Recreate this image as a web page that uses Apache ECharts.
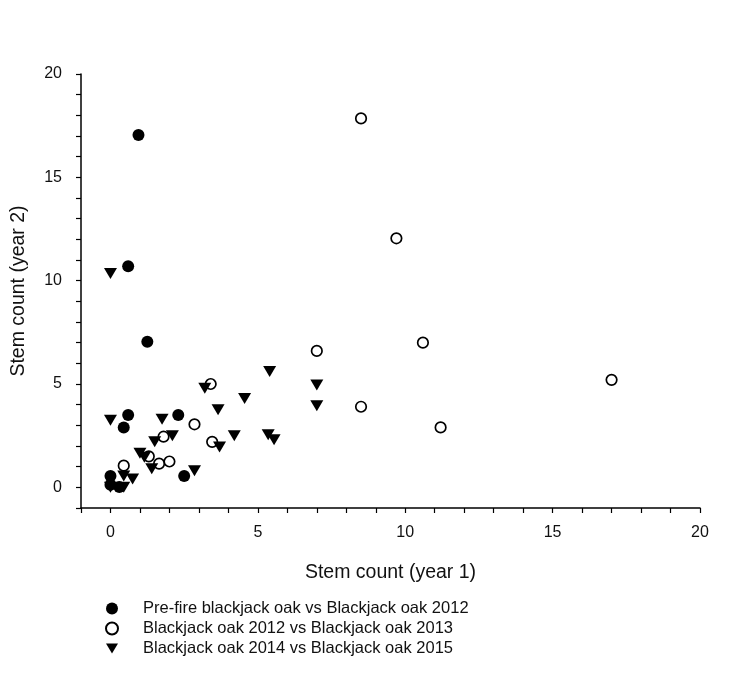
<!DOCTYPE html>
<html>
<head>
<meta charset="utf-8">
<script src="https://cdn.jsdelivr.net/npm/echarts@6/dist/echarts.min.js"></script>
<style>
html,body{margin:0;padding:0;background:#fff;}
#chart{width:749px;height:677px;}
</style>
</head>
<body>
<div id="chart"></div>
<script>
const seriesNames = [
  'Pre-fire blackjack oak vs Blackjack oak 2012',
  'Blackjack oak 2012 vs Blackjack oak 2013',
  'Blackjack oak 2014 vs Blackjack oak 2015'
];
const prefireX = [0.95, 0.6, 1.25, 0.6, 0.45, 2.3, 2.5, 0, 0, 0.3];
const prefireY = [17.05, 10.7, 7.05, 3.5, 2.9, 3.5, 0.55, 0.55, 0.12, 0.02];
const y2013X = [8.5, 9.7, 10.6, 7.0, 8.5, 11.2, 17.0, 3.4, 3.45, 2.85, 1.8, 1.3, 1.65, 2.0, 0.45];
const y2013Y = [17.85, 12.05, 7.0, 6.6, 3.9, 2.9, 5.2, 5.0, 2.2, 3.05, 2.45, 1.5, 1.15, 1.25, 1.05];
const y2015X = [0, 0, 1.75, 2.1, 1.5, 1.0, 1.15, 1.4, 2.85, 0.45, 0.75, 0, 0.45, 3.2, 3.65, 3.7, 4.55, 4.2, 5.4, 5.35, 5.55, 7.0, 7.0];
const y2015Y = [10.35, 3.25, 3.3, 2.5, 2.2, 1.65, 1.45, 0.9, 0.8, 0.55, 0.4, 0, 0, 4.8, 3.75, 1.95, 4.3, 2.5, 5.6, 2.55, 2.3, 4.95, 3.95];
const axisMin = -1, axisMax = 20, tickStep = 1, labelStep = 5;
const xTitle = 'Stem count (year 1)';
const yTitle = 'Stem count (year 2)';

const zip = (xs, ys) => xs.map((x, i) => [x, ys[i]]);
const FONT = '"Liberation Sans", Arial, sans-serif';
const triPath = 'path://M0,0 L12,0 L6,10 Z';

const axisCommon = {
  type: 'value',
  min: axisMin, max: axisMax, interval: tickStep,
  splitLine: {show: false},
  axisLine: {show: true, onZero: false, lineStyle: {color: '#000', width: 1.5}},
  axisTick: {show: true, inside: false, length: 5, lineStyle: {color: '#000', width: 1.2}},
  nameLocation: 'middle',
  nameTextStyle: {fontFamily: FONT, fontSize: 19.5, color: '#111'}
};

const chart = echarts.init(document.getElementById('chart'), null, {renderer: 'canvas'});
chart.setOption({
  backgroundColor: '#fff',
  animation: false,
  grid: {left: 81, right: 49, top: 74, bottom: 169, containLabel: false},
  xAxis: Object.assign({}, axisCommon, {
    name: xTitle, nameGap: 55,
    axisLabel: {
      margin: 17, fontFamily: FONT, fontSize: 16, color: '#111',
      formatter: v => (v % labelStep === 0 && v >= 0) ? String(v) : ''
    }
  }),
  yAxis: Object.assign({}, axisCommon, {
    name: yTitle, nameGap: 52,
    axisLabel: {
      margin: 19, fontFamily: FONT, fontSize: 16, color: '#111',
      formatter: v => (v % labelStep === 0 && v >= 0) ? String(v) : ''
    }
  }),
  legend: {
    orient: 'vertical', left: 105, top: 600,
    itemWidth: 12, itemHeight: 12, itemGap: 3, padding: 0,
    textStyle: {fontFamily: FONT, fontSize: 16.5, color: '#111', padding: [0, 0, 0, 20]},
    data: [
      {name: seriesNames[0], icon: 'circle'},
      {name: seriesNames[1], icon: 'circle'},
      {name: seriesNames[2], icon: triPath}
    ]
  },
  series: [
    {
      name: seriesNames[0], type: 'scatter', data: zip(prefireX, prefireY),
      symbol: 'circle', symbolSize: 12,
      itemStyle: {color: '#000', opacity: 1}
    },
    {
      name: seriesNames[1], type: 'scatter', data: zip(y2013X, y2013Y),
      symbol: 'circle', symbolSize: 10.5,
      itemStyle: {color: '#fff', borderColor: '#000', borderWidth: 1.7, opacity: 1}
    },
    {
      name: seriesNames[2], type: 'scatter', data: zip(y2015X, y2015Y),
      symbol: triPath, symbolSize: [13, 11],
      itemStyle: {color: '#000', opacity: 1}
    }
  ]
});
</script>
</body>
</html>
